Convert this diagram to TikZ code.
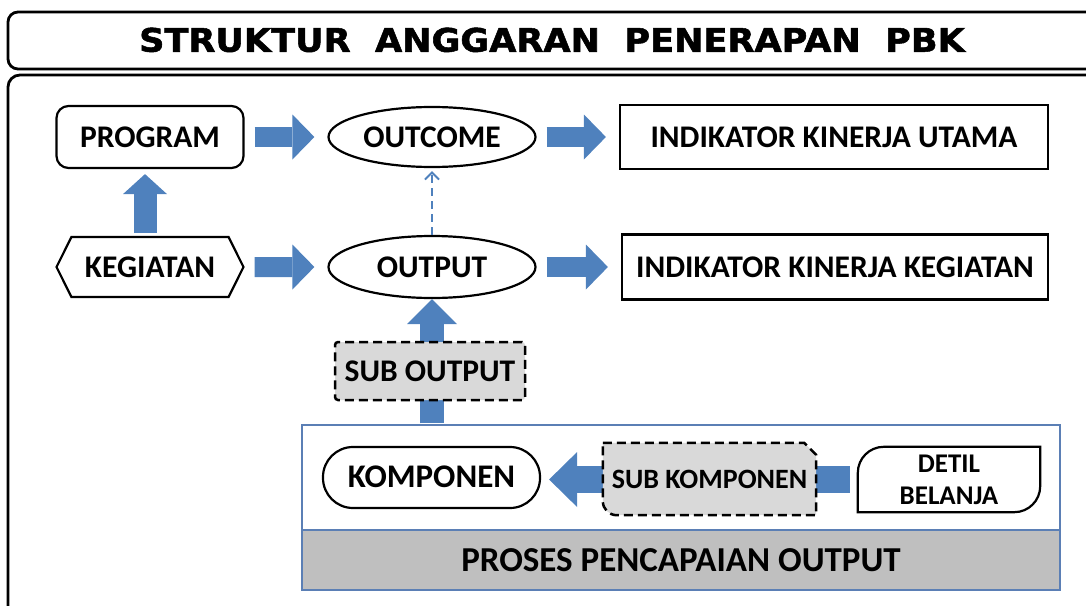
\documentclass[tikz,border=0pt]{standalone}
\usepackage{fontspec}
\setmainfont{Carlito}
\newfontfamily\titlefont[BoldFeatures={FakeBold=1.6}]{DejaVu Sans}
\usetikzlibrary{shapes,arrows.meta,positioning,calc}
\definecolor{arrowblue}{HTML}{4F81BD}
\definecolor{procblue}{HTML}{5B7FB5}
\definecolor{subgray}{HTML}{D9D9D9}
\definecolor{bandgray}{HTML}{BFBFBF}

\tikzset{
  box/.style={draw, line width=2.2pt, inner sep=0pt, text height=20pt, text depth=0pt,
    font=\bfseries\fontsize{31.5}{31.5}\selectfont},
  dashbox/.style={box, fill=subgray, line width=2.5pt, dash pattern=on 9pt off 5pt},
  blockarrow/.style={arrowblue, line width=20pt, -{Triangle[length=22pt,width=45pt,line width=0pt]},
    shorten <=10pt, shorten >=13pt},
  dotarrow/.style={arrowblue, line width=2.2pt, dash pattern=on 8pt off 5pt,
    -{Straight Barb[length=7pt,width=14pt,line width=2pt]}},
}

\begin{document}
\begin{tikzpicture}[x=1pt,y=-1pt]
    \useasboundingbox (0,0) rectangle (1086,605);
    \draw [line width=2.8pt, rounded corners=10pt] (8,12) rectangle (1120,69);
    \draw [line width=2.8pt, rounded corners=12pt] (8,75) rectangle (1120,640);
    \node (title) at (552,40) [inner sep=0pt, text height=23.5pt, text depth=0pt]
        {\titlefont\bfseries\fontsize{32.5}{32.5}\selectfont\scalebox{1.08}[1]{STRUKTUR\ \ ANGGARAN\ \ PENERAPAN\ \ PBK}};

    % upper rows
    \node (program) [box, rounded corners=12pt, minimum width=187pt, minimum height=62pt] at (150,137) {PROGRAM};
    \node (outcome) [box, ellipse, minimum width=207pt, minimum height=60pt, node distance=282pt, right of=program] {OUTCOME};
    \node (iku) [box, minimum width=428pt, minimum height=64pt, node distance=402pt, right of=outcome] {INDIKATOR KINERJA UTAMA};
    \node (kegiatan) [box, signal, signal to=west and east, signal pointer angle=127, minimum width=187pt, minimum height=60pt, node distance=130pt, below of=program] {KEGIATAN};
    \node (output) [box, ellipse, minimum width=207pt, minimum height=62pt, node distance=130pt, below of=outcome] {OUTPUT};
    \node (ikk) [box, minimum width=426pt, minimum height=65pt, node distance=403pt, right of=output] {INDIKATOR KINERJA KEGIATAN};

    \draw [blockarrow] (program) -- (outcome);
    \draw [blockarrow] (outcome) -- (iku);
    \draw [blockarrow] (kegiatan) -- (output);
    \draw [blockarrow] (output) -- (ikk);
    \draw [blockarrow, line width=23pt, -{Triangle[length=20pt,width=44pt,line width=0pt]}, shorten <=3pt, shorten >=5pt]
        ([xshift=-5pt]kegiatan.north) -- ([xshift=-5pt]program.south);
    \draw [dotarrow, shorten >=3pt] (output) -- (outcome);

    % proses pencapaian output
    \node (pencapaian) [draw=procblue, line width=1.5pt, minimum width=758pt, minimum height=165pt] at (681,507.5) {};
    \node (proses) [draw=procblue, line width=1.5pt, fill=bandgray, minimum width=758pt, minimum height=60pt,
        text height=22pt, text depth=0pt, font=\bfseries\fontsize{35}{35}\selectfont] at (681,560) {PROSES PENCAPAIAN OUTPUT};
    \draw [blockarrow, line width=24pt, -{Triangle[length=25pt,width=50pt,line width=0pt]}, shorten <=1pt, shorten >=0pt]
        (output |- pencapaian.north) -- (output.south);
    \node (suboutput) [dashbox, rounded corners=3pt, minimum width=190pt, minimum height=58pt] at (430,371) {SUB OUTPUT};

    \node (komponen) [box, rounded corners=30pt, minimum width=217pt, minimum height=61pt,
        font=\bfseries\fontsize{33}{33}\selectfont] at (431.5,477.5) {KOMPONEN};
    \node (detil) [inner sep=0pt, minimum width=182pt, minimum height=65pt, align=center,
        font=\bfseries\fontsize{27}{32}\selectfont] at (949,479.5) {DETIL\\BELANJA};
    \draw [line width=2.2pt] (detil.south west) [rounded corners=26pt] -- (detil.north west) [sharp corners]
        -- (detil.north east) [rounded corners=26pt] -- (detil.south east) [sharp corners] -- cycle;
    \node (subkomponen) [minimum width=213pt, minimum height=72pt] at (709.5,479) {};
    \draw [blockarrow, line width=27pt, -{Triangle[length=28pt,width=55pt,line width=0pt]}, shorten <=8pt, shorten >=8pt]
        (detil.west) -- (detil.west -| komponen.east);
    \draw [line width=2.5pt, fill=subgray, dash pattern=on 9pt off 5pt] (subkomponen.north west)
        -- ([xshift=-12pt]subkomponen.north east) -- ([yshift=-12pt]subkomponen.north east)
        -- (subkomponen.south east) [rounded corners=14pt] -- (subkomponen.south west) [sharp corners] -- cycle;
    \node (subkomplabel) [inner sep=0pt, font=\bfseries\fontsize{28}{28}\selectfont] at (subkomponen) {SUB KOMPONEN};
\end{tikzpicture}
\end{document}
